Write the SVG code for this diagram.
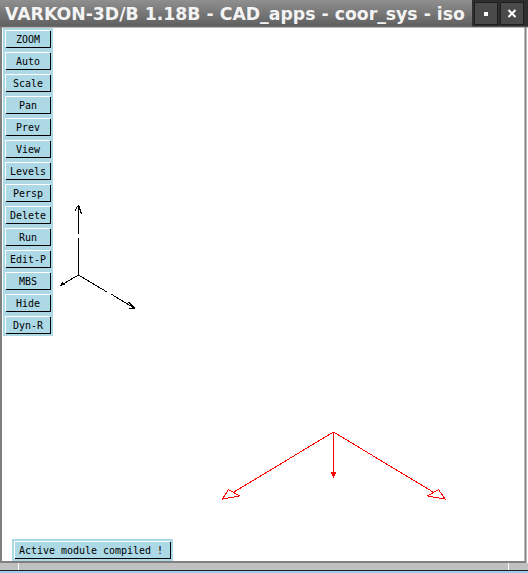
<svg xmlns="http://www.w3.org/2000/svg" width="528" height="573" viewBox="0 0 528 573">
<style>
.sh{fill:none;stroke:#000;stroke-width:1.500;shape-rendering:crispEdges}
.hl{fill:none;stroke:#fff;stroke-width:1;shape-rendering:crispEdges}
.t{font-family:"DejaVu Sans Mono","Liberation Mono",monospace;font-size:11px;fill:#000;text-anchor:middle}
.bl{fill:none;stroke:#000;stroke-width:1;shape-rendering:crispEdges}
.rd{fill:none;stroke:#f00;stroke-width:1;shape-rendering:crispEdges}
</style>
<defs>
<linearGradient id="tb" x1="0" y1="0" x2="0" y2="1"><stop offset="0" stop-color="#8f8f8f"/><stop offset="1" stop-color="#5e5e5e"/></linearGradient>
<g id="b"><rect width="46" height="18" fill="#add8e6"/><path class="hl" d="M0.500 17V0.500H45"/><path class="sh" d="M1 17.500H45.500V1"/></g>
</defs>
<rect width="528" height="573" fill="#fff"/>
<rect width="528" height="27" fill="url(#tb)"/>
<text x="5" y="20" font-family="'DejaVu Sans',sans-serif" font-weight="700" font-size="17.300" fill="#f4f4f4">VARKON-3D/B 1.18B - CAD_apps - coor_sys - iso</text>
<g id="window-buttons">
<rect x="472" y="0" width="56" height="27" fill="#2e2e2e"/>
<rect x="474.500" y="2.500" width="23" height="22" fill="#4a4a4a" stroke="#1e1e1e"/>
<rect x="500.500" y="2.500" width="23" height="22" fill="#4a4a4a" stroke="#1e1e1e"/>
<rect x="484" y="12" width="4" height="4" fill="#fff"/>
<path d="M508.500 10L515.500 17M515.500 10L508.500 17" stroke="#fff" stroke-width="2" fill="none"/>
</g>
<path d="M0 27H528" stroke="#777" stroke-width="1"/>
<path d="M1 27V562H525.500V27" fill="none" stroke="#808080" stroke-width="2"/>
<rect x="0" y="563" width="528" height="7" fill="#c0c0c0"/>
<path d="M18.500 563V570M508.500 563V570" stroke="#fff" stroke-width="1"/>
<rect x="0" y="570" width="528" height="1" fill="#222"/>
<rect x="0" y="571" width="528" height="2" fill="#9ecbf0"/>
<rect id="panel" x="3" y="28" width="50" height="308" fill="#add8e6"/>
<g id="btn-zoom"><use href="#b" x="5" y="30"/><text class="t" x="28" y="42.500" textLength="24" lengthAdjust="spacingAndGlyphs">ZOOM</text></g>
<g id="btn-auto"><use href="#b" x="5" y="52"/><text class="t" x="28" y="64.500" textLength="24" lengthAdjust="spacingAndGlyphs">Auto</text></g>
<g id="btn-scale"><use href="#b" x="5" y="74"/><text class="t" x="28" y="86.500" textLength="30" lengthAdjust="spacingAndGlyphs">Scale</text></g>
<g id="btn-pan"><use href="#b" x="5" y="96"/><text class="t" x="28" y="108.500" textLength="18" lengthAdjust="spacingAndGlyphs">Pan</text></g>
<g id="btn-prev"><use href="#b" x="5" y="118"/><text class="t" x="28" y="130.500" textLength="24" lengthAdjust="spacingAndGlyphs">Prev</text></g>
<g id="btn-view"><use href="#b" x="5" y="140"/><text class="t" x="28" y="152.500" textLength="24" lengthAdjust="spacingAndGlyphs">View</text></g>
<g id="btn-levels"><use href="#b" x="5" y="162"/><text class="t" x="28" y="174.500" textLength="36" lengthAdjust="spacingAndGlyphs">Levels</text></g>
<g id="btn-persp"><use href="#b" x="5" y="184"/><text class="t" x="28" y="196.500" textLength="30" lengthAdjust="spacingAndGlyphs">Persp</text></g>
<g id="btn-delete"><use href="#b" x="5" y="206"/><text class="t" x="28" y="218.500" textLength="36" lengthAdjust="spacingAndGlyphs">Delete</text></g>
<g id="btn-run"><use href="#b" x="5" y="228"/><text class="t" x="28" y="240.500" textLength="18" lengthAdjust="spacingAndGlyphs">Run</text></g>
<g id="btn-edit"><use href="#b" x="5" y="250"/><text class="t" x="28" y="262.500" textLength="36" lengthAdjust="spacingAndGlyphs">Edit-P</text></g>
<g id="btn-mbs"><use href="#b" x="5" y="272"/><text class="t" x="28" y="284.500" textLength="18" lengthAdjust="spacingAndGlyphs">MBS</text></g>
<g id="btn-hide"><use href="#b" x="5" y="294"/><text class="t" x="28" y="306.500" textLength="24" lengthAdjust="spacingAndGlyphs">Hide</text></g>
<g id="btn-dyn"><use href="#b" x="5" y="316"/><text class="t" x="28" y="328.500" textLength="30" lengthAdjust="spacingAndGlyphs">Dyn-R</text></g>
<g id="status">
<rect x="12" y="539" width="161" height="22" fill="#add8e6"/>
<path class="hl" d="M14.500 558V541.500H170"/>
<path class="sh" d="M15 558.500H170.500V542"/>
<text x="19" y="554" textLength="144" lengthAdjust="spacingAndGlyphs" font-family="'DejaVu Sans Mono','Liberation Mono',monospace" font-size="11px" fill="#000">Active module compiled !</text>
</g>
<g id="connectors">
<g id="axes-black" class="bl">
<path d="M78.500 275V238M78.500 233.500V205M78.500 205L75 210.500M78.500 205L81.500 214"/>
<path d="M78.500 275L60.500 285.500M60.500 285.500L65 284M60.500 285.500L63 282"/>
<path d="M78.500 275L107 292M111 294L135 308.500M135 308.500L128.500 302M135 308.500L128.500 308.500"/>
</g>
<g id="axes-red" class="rd">
<path d="M333.500 432V476.500"/>
<path d="M333.500 476.500L331.500 472.500L335.500 472.500Z" fill="#f00"/>
<path d="M333.500 432L234 492M222.500 499L228.500 489.500L239.500 496Z"/>
<path d="M333.500 432L433 492M445 499L438.500 489.500L427.500 496Z"/>
</g>
</g>
</svg>
